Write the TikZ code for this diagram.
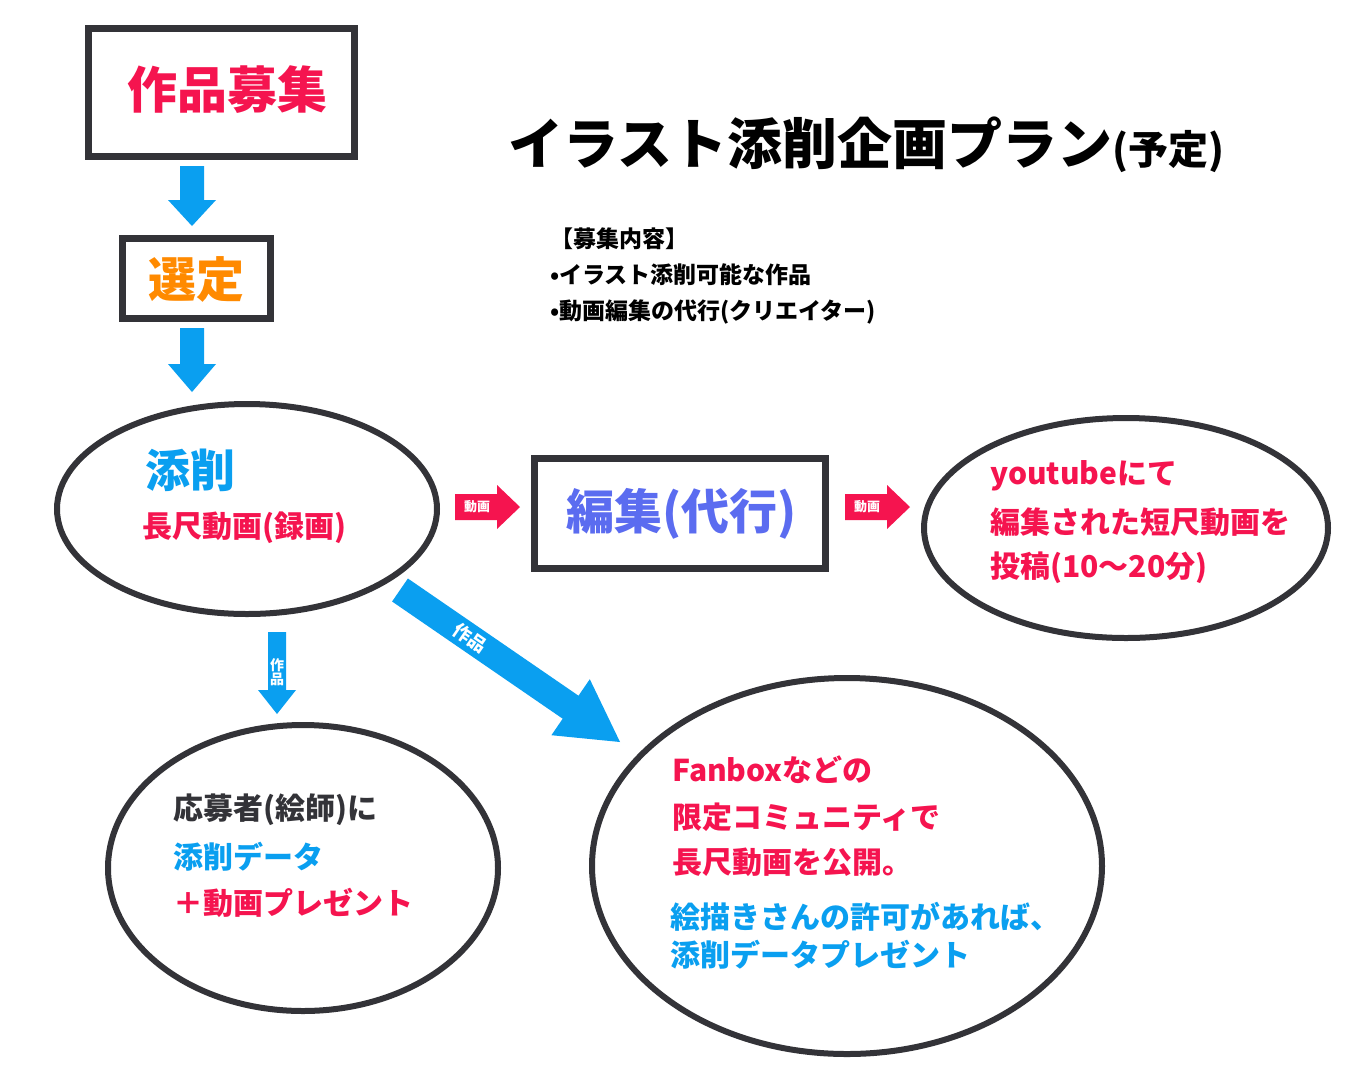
\documentclass[tikz,border=0pt]{standalone}
\usepackage{fontspec}
\setmainfont{Noto Sans CJK JP}
\definecolor{myred}{HTML}{F5144F}
\definecolor{myblue}{HTML}{0A9FF0}
\definecolor{myorange}{HTML}{FF8A00}
\definecolor{mypurple}{HTML}{5B6CF0}
\definecolor{mydark}{HTML}{333338}
\begin{document}
\begin{tikzpicture}[x=1pt,y=-1pt,
  box/.style={draw=mydark,line width=7pt},
  ell/.style={draw=mydark,line width=6pt},
  txt/.style={font=\bfseries\fontsize{30}{34}\selectfont,anchor=west,inner sep=0pt},
  lbl/.style={font=\bfseries\fontsize{13}{14}\selectfont,text=white,inner sep=0pt}]
\useasboundingbox (0,0) rectangle (1371,1080);
\fill[white] (0,0) rectangle (1371,1080);
% boxes
\draw[box] (88,28) rectangle (354,156);
\node (boshu) at (227,90) {\bfseries\fontsize{50}{54}\selectfont\color{myred}作品募集};
\draw[box] (122,238) rectangle (270,318);
\node (sentei) at (196,279) {\bfseries\fontsize{48}{52}\selectfont\color{myorange}選定};
\draw[box] (534,458) rectangle (825,568);
\node[anchor=west,inner sep=0pt] (henshu) at (566,514) {\bfseries\fontsize{48}{52}\selectfont\color{mypurple}編集(代行)};
% ellipses
\draw[ell] (247,509) ellipse [x radius=190,y radius=105];
\node[txt,text=myblue,font=\bfseries\fontsize{45}{48}\selectfont] (tensaku) at (145,470) {添削};
\node[txt,text=myred] (choshaku) at (142,528) {長尺動画(録画)};
\draw[ell] (1126,528) ellipse [x radius=202,y radius=110];
\node[txt,text=myred] (yt1) at (990,476) {youtubeにて};
\node[txt,text=myred] (yt2) at (990,522) {編集された短尺動画を};
\node[txt,text=myred] (yt3) at (990,568) {投稿(10〜20分)};
\draw[ell] (303,868) ellipse [x radius=195,y radius=143];
\node[txt,text=mydark] (o1) at (173,810) {応募者(絵師)に};
\node[txt,text=myblue] (o2) at (173,857) {添削データ};
\node[txt,text=myred] (o3) at (173,903) {＋動画プレゼント};
\draw[ell] (847,866) ellipse [x radius=255,y radius=188];
\node[txt,text=myred] (f1) at (672,770) {Fanboxなどの};
\node[txt,text=myred] (f2) at (672,817) {限定コミュニティで};
\node[txt,text=myred] (f3) at (672,862) {長尺動画を公開。};
\node[txt,text=myblue] (f4) at (670,917) {絵描きさんの許可があれば、};
\node[txt,text=myblue] (f5) at (670,955) {添削データプレゼント};
% title
\node[anchor=west,inner sep=0pt] (title) at (508,145) {\bfseries\fontsize{55}{60}\selectfont イラスト添削企画プラン{\fontsize{40}{42}\selectfont(予定)}};
\node[anchor=west,inner sep=0pt,align=left,font=\bfseries\fontsize{23}{36}\selectfont] (content) at (550,276) {【募集内容】\\•イラスト添削可能な作品\\•動画編集の代行(クリエイター)};
% arrows
\fill[myblue] (180,166)--(204,166)--(204,200)--(216,200)--(192,226)--(168,200)--(180,200)--cycle;
\fill[myblue] (180,328)--(204,328)--(204,364)--(216,364)--(192,392)--(168,364)--(180,364)--cycle;
\fill[myblue] (268,632)--(286,632)--(286,690)--(296,690)--(277,714)--(258,690)--(268,690)--cycle;
\node[lbl,align=center,font=\bfseries\fontsize{14}{14}\selectfont] (sak1) at (277,672) {作\\品};
\fill[myred] (455,494)--(497,494)--(497,485)--(520,507)--(497,529)--(497,520)--(455,520)--cycle;
\node[lbl] (dg1) at (477,507) {動画};
\fill[myred] (845,494)--(887,494)--(887,485)--(910,507)--(887,529)--(887,520)--(845,520)--cycle;
\node[lbl] (dg2) at (867,507) {動画};
\fill[myblue] (407.9,578.5)--(578.5,695.7)--(589.8,679.2)--(620,742)--(551.4,735.2)--(562.7,718.7)--(392.1,601.5)--cycle;
\node[lbl,rotate=-34.6,font=\bfseries\fontsize{18}{18}\selectfont] (sak2) at (470,638) {作品};
\end{tikzpicture}
\end{document}
